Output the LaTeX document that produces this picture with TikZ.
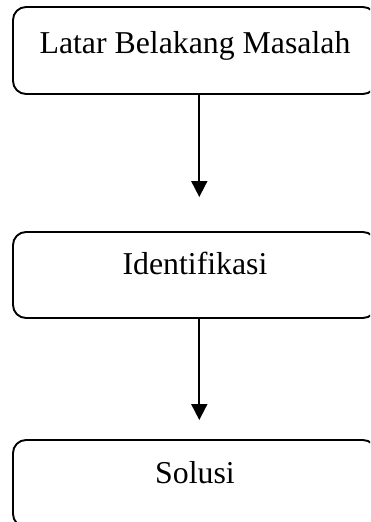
\documentclass[tikz,border=0pt]{standalone}
\usepackage{fontspec}
\setmainfont{Liberation Serif}
\usetikzlibrary{arrows.meta}
\begin{document}
\begin{tikzpicture}[x=1pt,y=1pt,
  box/.style={draw=black, line width=1.9pt, rounded corners=13pt, minimum width=363pt, inner sep=0pt},
  lbl/.style={anchor=base, inner sep=0pt, font=\fontsize{31.8}{38}\selectfont},
  arr/.style={draw=black, line width=1.8pt, -{Triangle[width=16pt,length=16pt]}}]
\useasboundingbox (0,0) rectangle (370,-522);
\clip (0,0) rectangle (370,-522);
\node[box, minimum height=87pt] (b1) at (194.5,-50.5) {};
\node[box, minimum height=86pt] (b2) at (194.5,-275) {};
\node[box, minimum height=87pt] (b3) at (194.5,-483.5) {};
\node[lbl] (t1) at (195,-53) {Latar Belakang Masalah};
\node[lbl] (t2) at (195,-274.5) {Identifikasi};
\node[lbl] (t3) at (195,-483) {Solusi};
\coordinate (e1) at (199.3,-197);
\coordinate (e2) at (199.3,-420);
\draw[arr] (b1.south -| e1) -- (e1);
\draw[arr] (b2.south -| e2) -- (e2);
\end{tikzpicture}
\end{document}
